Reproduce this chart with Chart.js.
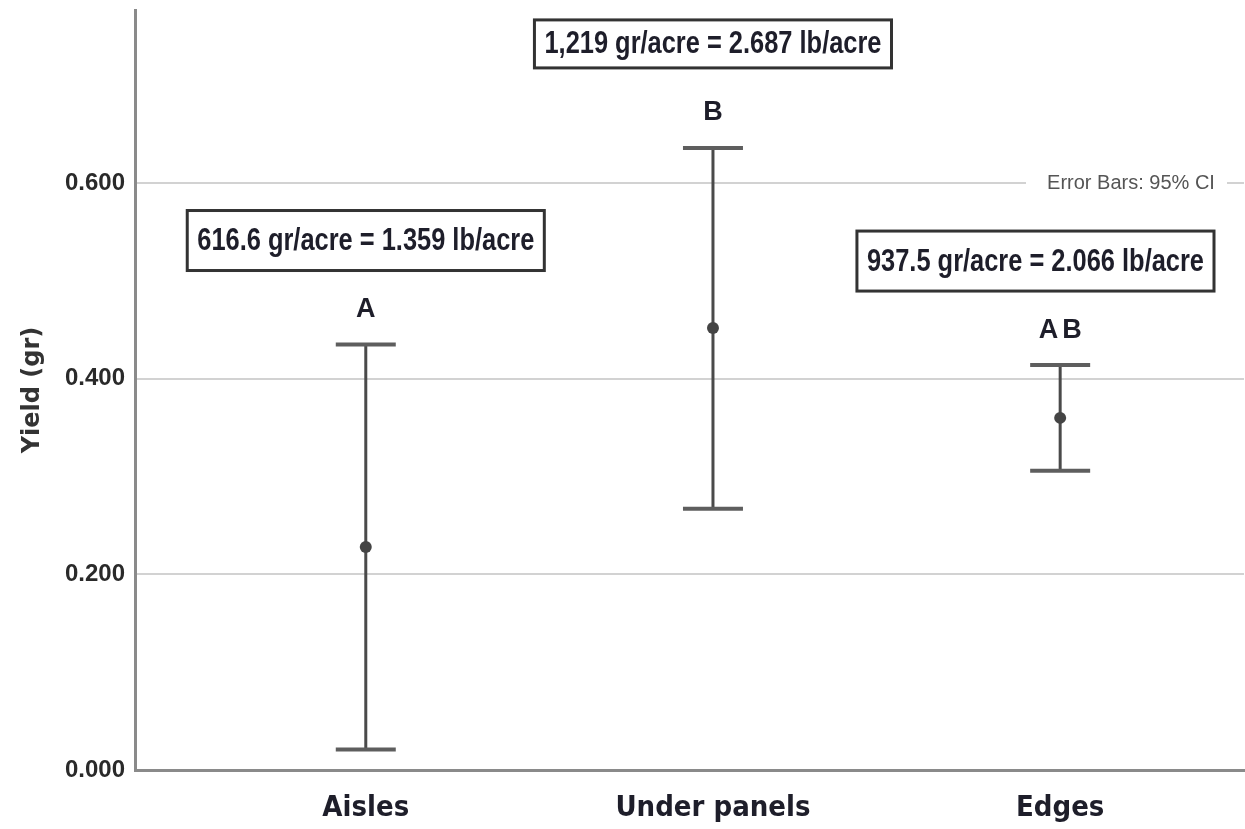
<!DOCTYPE html>
<html>
<head>
<meta charset="utf-8">
<script src="https://cdn.jsdelivr.net/npm/chart.js@4.4.1/dist/chart.umd.min.js"></script>
<style>
  html, body { margin: 0; padding: 0; background: #fff; overflow: hidden; }
  /* the plot runs off the right edge of the page */
  #wrap { width: 1250px; height: 829px; position: relative; }
</style>
</head>
<body>
<div id="wrap"><canvas id="c"></canvas></div>
<script>
// Yield per location: mean with 95% confidence interval
const categories = ['Aisles', 'Under panels', 'Edges'];
const meanYield = [0.228, 0.452, 0.360];
const ciLower = [0.021, 0.267, 0.306];
const ciUpper = [0.435, 0.636, 0.414];
const groupLetters = ['A', 'B', 'AB'];
const perAcreLabels = [
  '616.6 gr/acre = 1.359 lb/acre',
  '1,219 gr/acre = 2.687 lb/acre',
  '937.5 gr/acre = 2.066 lb/acre'
];
const yTicks = [0, 0.2, 0.4, 0.6];
const xPositions = categories.map((_, i) => i + 1);

const CONDENSED = "'DejaVu Sans Condensed', 'Liberation Sans Narrow', sans-serif";
const SANS = "'Liberation Sans', Arial, sans-serif";
const TEXT = '#1e1e2a';

// Confidence-interval stems and caps, drawn underneath the mean markers
const errorBars = {
  id: 'errorBars',
  beforeDatasetsDraw(chart) {
    const { ctx, scales: { x, y } } = chart;
    ctx.save();
    xPositions.forEach((v, i) => {
      const px = x.getPixelForValue(v);
      const lo = y.getPixelForValue(ciLower[i]);
      const hi = y.getPixelForValue(ciUpper[i]);
      ctx.strokeStyle = '#4a4a4a';
      ctx.lineWidth = 3;
      ctx.beginPath();
      ctx.moveTo(px, lo);
      ctx.lineTo(px, hi);
      ctx.stroke();
      ctx.strokeStyle = '#5e5e5e';
      ctx.lineWidth = 4;
      [lo, hi].forEach(py => {
        ctx.beginPath();
        ctx.moveTo(px - 30, py);
        ctx.lineTo(px + 30, py);
        ctx.stroke();
      });
    });
    ctx.restore();
  }
};

// Group letters, boxed per-acre conversions and the error-bar note
const annotations = {
  id: 'annotations',
  afterDraw(chart, args, opts) {
    const { ctx, chartArea, scales: { x, y } } = chart;
    ctx.save();

    // note sitting on the 0.600 gridline
    const gy = y.getPixelForValue(0.6);
    ctx.fillStyle = '#fff';
    ctx.fillRect(chartArea.right - 218, gy - 4, 201, 8);
    ctx.fillStyle = '#555';
    ctx.font = '20px ' + SANS;
    ctx.textAlign = 'center';
    ctx.textBaseline = 'middle';
    ctx.fillText('Error Bars: 95% CI', chartArea.right - 113, gy);

    xPositions.forEach((v, i) => {
      const px = x.getPixelForValue(v);
      const top = y.getPixelForValue(ciUpper[i]);

      // letter group
      ctx.fillStyle = TEXT;
      ctx.font = 'bold 27px ' + SANS;
      ctx.textAlign = 'center';
      ctx.textBaseline = 'middle';
      const multi = groupLetters[i].length > 1;
      ctx.letterSpacing = multi ? '4px' : '0px';
      ctx.fillText(groupLetters[i], px + (multi ? 2 : 0), top - 35);
      ctx.letterSpacing = '0px';

      // boxed conversion, set in a horizontally condensed face
      const squeeze = 0.82;
      ctx.font = 'bold 31px ' + SANS;
      const w = ctx.measureText(perAcreLabels[i]).width * squeeze + 20;
      const h = opts.boxHeights[i];
      let cx = px;
      if (cx + w / 2 > chartArea.right - 30) cx = chartArea.right - 30 - w / 2;
      const cy = top - 104;
      ctx.fillStyle = '#fff';
      ctx.fillRect(cx - w / 2, cy - h / 2, w, h);
      ctx.strokeStyle = '#333';
      ctx.lineWidth = 3;
      ctx.strokeRect(cx - w / 2, cy - h / 2, w, h);
      ctx.save();
      ctx.translate(cx, cy + 1);
      ctx.scale(squeeze, 1);
      ctx.fillStyle = TEXT;
      ctx.fillText(perAcreLabels[i], 0, 0);
      ctx.restore();
    });
    ctx.restore();
  }
};

new Chart(document.getElementById('c'), {
  type: 'scatter',
  data: {
    datasets: [{
      data: xPositions.map((v, i) => ({ x: v, y: meanYield[i] })),
      pointRadius: 6,
      pointHoverRadius: 6,
      pointBackgroundColor: '#444',
      pointBorderColor: '#444',
      pointBorderWidth: 0
    }]
  },
  options: {
    responsive: true,
    maintainAspectRatio: false,
    animation: false,
    layout: { padding: { top: 10, right: 0, left: 0, bottom: 0 } },
    plugins: {
      legend: { display: false },
      tooltip: { enabled: false },
      annotations: { boxHeights: [60, 48, 60] }
    },
    scales: {
      x: {
        type: 'linear',
        min: 0.3353,
        max: 3.5295,
        afterBuildTicks: s => { s.ticks = xPositions.map(v => ({ value: v })); },
        afterFit: s => { s.height = 59; s.paddingLeft = 0; s.paddingRight = 0; },
        grid: { display: false, drawTicks: false },
        border: { display: true, color: '#8a8a8a', width: 3 },
        ticks: {
          padding: 21,
          color: TEXT,
          font: { family: CONDENSED, size: 29, weight: 'bold' },
          callback: v => categories[v - 1]
        }
      },
      y: {
        min: 0,
        max: 0.777,
        afterBuildTicks: s => { s.ticks = yTicks.map(v => ({ value: v })); },
        afterFit: s => { s.width = 135; s.paddingTop = 0; s.paddingBottom = 0; },
        grid: { color: '#d2d2d2', lineWidth: 2, drawTicks: false },
        border: { display: true, color: '#8a8a8a', width: 3 },
        ticks: {
          padding: 10,
          color: '#2a2a2a',
          font: { family: SANS, size: 24, weight: 'bold' },
          callback: v => v.toFixed(3)
        },
        title: {
          display: true,
          text: 'Yield (gr)',
          color: '#333',
          font: { family: "'DejaVu Sans', sans-serif", size: 24, weight: 'bold' },
          padding: { top: 18, bottom: 0 }
        }
      }
    }
  },
  plugins: [errorBars, annotations]
});
</script>
</body>
</html>
